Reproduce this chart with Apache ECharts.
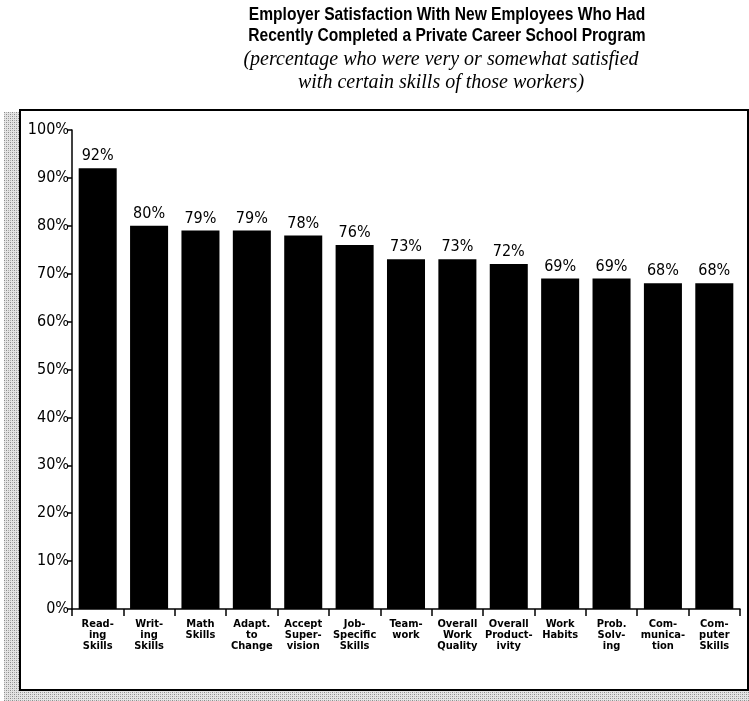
<!DOCTYPE html>
<html>
<head>
<meta charset="utf-8">
<script src="https://cdn.jsdelivr.net/npm/echarts@6/dist/echarts.min.js"></script>
<style>
  html, body { margin: 0; padding: 0; background: #fff; }
  #chart { width: 749px; height: 701px; }
</style>
</head>
<body>
<div id="chart"></div>
<script>
// Skill categories (line breaks follow the printed hyphenation)
const categories = [
  'Read-\ning\nSkills',
  'Writ-\ning\nSkills',
  'Math\nSkills',
  'Adapt.\nto\nChange',
  'Accept\nSuper-\nvision',
  'Job-\nSpecific\nSkills',
  'Team-\nwork',
  'Overall\nWork\nQuality',
  'Overall\nProduct-\nivity',
  'Work\nHabits',
  'Prob.\nSolv-\ning',
  'Com-\nmunica-\ntion',
  'Com-\nputer\nSkills'
];

// Percent of employers very or somewhat satisfied
const satisfied = [92, 80, 79, 79, 78, 76, 73, 73, 72, 69, 69, 68, 68];

// Y-axis range and step (percent)
const yMin = 0;
const yMax = 100;
const yStep = 10;

const titleLines = [
  'Employer Satisfaction With New Employees Who Had',
  'Recently Completed a Private Career School Program'
];
const subtitleLines = [
  '(percentage who were very or somewhat satisfied',
  'with certain skills of those workers)'
];

// Grey stippled texture for the shadow margin around the frame
function makeStipple() {
  const c = document.createElement('canvas');
  c.width = 4; c.height = 4;
  const g = c.getContext('2d');
  g.fillStyle = '#e4e4e4';
  g.fillRect(0, 0, 4, 4);
  g.fillStyle = '#8a8a8a';
  g.fillRect(0, 0, 1, 1);
  g.fillRect(2, 2, 1, 1);
  g.fillStyle = '#b0b0b0';
  g.fillRect(2, 0, 1, 1);
  g.fillRect(0, 2, 1, 1);
  return c;
}
const stipple = makeStipple();

const condensed = "'DejaVu Sans Condensed', 'Liberation Sans', sans-serif";

const titleX = 447;

// Heading lines: bold sans squeezed horizontally to a narrow face
const headingGraphics = titleLines.map((line, i) => ({
  type: 'text',
  x: titleX,
  y: 15 + i * 21,
  scaleX: 0.82,
  style: {
    text: line,
    textAlign: 'center',
    textVerticalAlign: 'middle',
    font: "bold 19px 'Liberation Sans', Arial, sans-serif",
    fill: '#000'
  }
}));

const subGraphics = subtitleLines.map((line, i) => ({
  type: 'text',
  x: titleX - 6,
  y: 60 + i * 23,
  style: {
    text: line,
    textAlign: 'center',
    textVerticalAlign: 'middle',
    font: "italic 20px 'Liberation Serif', 'Times New Roman', serif",
    fill: '#000'
  }
}));

const chart = echarts.init(document.getElementById('chart'), null, { renderer: 'canvas' });

chart.setOption({
  backgroundColor: '#ffffff',
  animation: false,
  graphic: [
    // stippled shadow along the left and bottom edges
    { type: 'rect', z: -10, shape: { x: 4, y: 112, width: 15, height: 589 },
      style: { fill: { image: stipple, repeat: 'repeat' } } },
    { type: 'rect', z: -10, shape: { x: 4, y: 691, width: 745, height: 10 },
      style: { fill: { image: stipple, repeat: 'repeat' } } },
    // chart frame
    { type: 'rect', z: -5, shape: { x: 20, y: 110, width: 728, height: 580 },
      style: { fill: '#fff', stroke: '#000', lineWidth: 2 } }
  ].concat(headingGraphics, subGraphics),
  grid: {
    left: 72,
    right: 9,
    top: 130,
    bottom: 92,
    containLabel: false
  },
  xAxis: {
    type: 'category',
    data: categories,
    boundaryGap: true,
    axisLine: { lineStyle: { color: '#000', width: 1.5 } },
    axisTick: { show: true, alignWithLabel: false, length: 7, lineStyle: { color: '#000', width: 1.5 } },
    axisLabel: {
      interval: 0,
      margin: 10,
      fontFamily: condensed,
      fontWeight: 'bold',
      fontSize: 11,
      lineHeight: 11,
      color: '#000'
    }
  },
  yAxis: {
    type: 'value',
    min: yMin,
    max: yMax,
    interval: yStep,
    splitLine: { show: false },
    axisLine: { show: true, lineStyle: { color: '#000', width: 1.5 } },
    axisTick: { show: true, length: 5, lineStyle: { color: '#000', width: 1.5 } },
    axisLabel: {
      formatter: '{value}%',
      margin: 3,
      fontFamily: condensed,
      fontSize: 16,
      color: '#000'
    }
  },
  series: [{
    type: 'bar',
    data: satisfied,
    barCategoryGap: '26%',
    itemStyle: { color: '#000' },
    label: {
      show: true,
      position: 'top',
      distance: 4,
      formatter: '{c}%',
      fontFamily: condensed,
      fontSize: 16,
      color: '#000'
    }
  }]
});
</script>
</body>
</html>
